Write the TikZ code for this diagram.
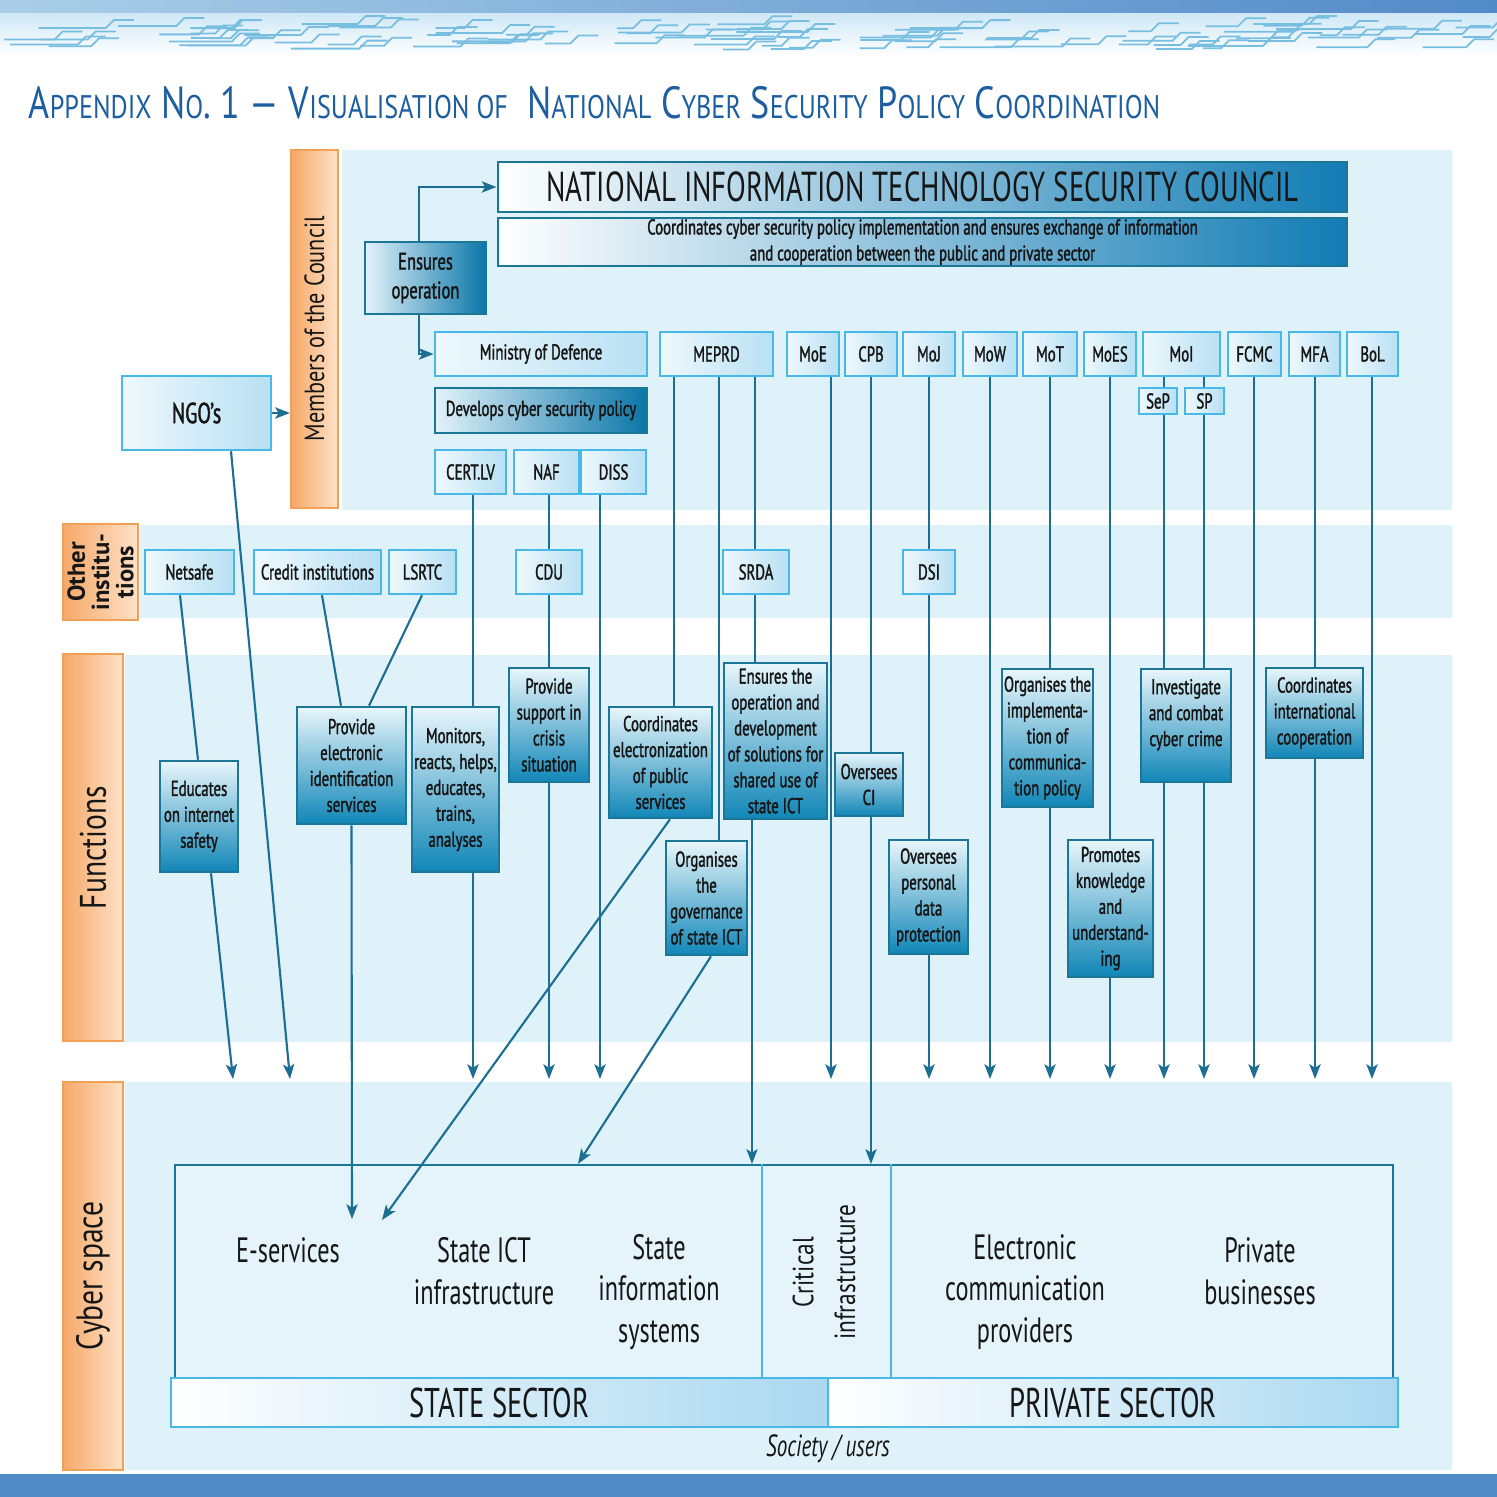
\documentclass[tikz,border=0pt]{standalone}
\usepackage{fontspec}
\setmainfont{PT Sans}[FakeStretch=0.69]
\newfontfamily\boxfamily{PT Sans}[FakeStretch=0.69, FakeBold=1.5]
\newfontfamily\bandfamily{PT Sans}[FakeStretch=0.8]
\newfontfamily\widefamily{PT Sans}
\usetikzlibrary{arrows.meta}

\definecolor{panelblue}{RGB}{223,241,249}
\definecolor{cyberfill}{RGB}{229,244,250}
\definecolor{linkblue}{RGB}{28,110,146}
\definecolor{cyanedge}{RGB}{72,184,230}
\definecolor{darkedge}{RGB}{28,118,152}
\definecolor{memberleft}{RGB}{238,248,252}
\definecolor{lightfill}{RGB}{184,224,243}
\definecolor{funtop}{RGB}{232,246,251}
\definecolor{funbottom}{RGB}{16,134,183}
\definecolor{deepleft}{RGB}{226,242,250}
\definecolor{deepright}{RGB}{10,118,168}
\definecolor{councilright}{RGB}{18,124,180}
\definecolor{bandleft}{RGB}{246,168,104}
\definecolor{bandright}{RGB}{253,226,200}
\definecolor{bandedge}{RGB}{242,160,88}
\definecolor{titleblue}{RGB}{28,94,160}
\definecolor{bannerblue}{RGB}{82,138,200}
\definecolor{bannerlight}{RGB}{170,206,232}
\definecolor{bannerpale}{RGB}{208,232,246}
\definecolor{circuitblue}{RGB}{120,190,225}
\definecolor{sectorfill}{RGB}{170,216,240}
\definecolor{inkblack}{RGB}{22,22,22}

% small capitals of the title
\newcommand\smc[1]{{\fontsize{9.3}{11}\selectfont #1}}

\tikzset{
  band/.style={draw=bandedge, line width=0.6pt, left color=bandleft, right color=bandright, inner sep=0pt},
  bandtext/.style={font=\bandfamily\fontsize{10.5}{12}\selectfont},
  member/.style={draw=cyanedge, line width=0.7pt, left color=memberleft, right color=lightfill,
    inner sep=0pt, minimum height=0.44cm, font=\boxfamily\fontsize{6.1}{7.4}\selectfont},
  funbox/.style={draw=darkedge, line width=0.7pt, top color=funtop, bottom color=funbottom,
    inner sep=0pt, align=center, font=\boxfamily\fontsize{6.1}{7.37}\selectfont},
  deepbox/.style={draw=darkedge, line width=0.7pt, left color=deepleft, right color=deepright,
    inner sep=0pt, align=center},
  councilbox/.style={draw=darkedge, line width=0.7pt, left color=white, right color=councilright,
    inner sep=0pt, minimum width=8.49cm, align=center},
  sector/.style={draw=cyanedge, line width=0.7pt, left color=white, right color=sectorfill,
    inner sep=0pt, minimum height=0.49cm, font=\fontsize{11.8}{13}\selectfont},
  spacetext/.style={align=center, font=\fontsize{10}{11.9}\selectfont},
  circuit/.style={draw=circuitblue, line width=0.5pt},
  link/.style={draw=linkblue, line width=0.6pt},
  arr/.style={link, -{Stealth[length=4.2pt, width=3.2pt, inset=1pt]}},
}

\begin{document}
\begin{tikzpicture}[x=0.01cm, y=-0.01cm, every node/.append style={text=inkblack}]
  \useasboundingbox (0,0) rectangle (1497,1497);
  \fill[white] (0,0) rectangle (1497,1497);

  % banner top and bottom
  \fill[left color=bannerlight, right color=bannerblue] (0,0) rectangle (1497,14);
  \fill[top color=bannerpale, bottom color=white] (0,14) rectangle (1497,56);
  \pgfmathsetseed{4}
  \foreach \i in {1,...,90}{
    \pgfmathsetmacro\xa{rnd*1470}
    \pgfmathsetmacro\ya{24+rnd*26}
    \pgfmathsetmacro\la{15+rnd*60}
    \draw[circuit] (\xa,\ya) -- ++(\la,0) -- ++(8,-8) -- ++(20,0);
  }
  \fill[bannerblue] (0,1474) rectangle (1497,1497);

  \node[anchor=base west, text=titleblue, inner sep=0pt, font=\bandfamily\fontsize{12.8}{15}\selectfont] (title) at (28,119)
    {A\smc{PPENDIX} N\smc{O}. 1 — V\smc{ISUALISATION OF}\ \ N\smc{ATIONAL} C\smc{YBER} S\smc{ECURITY} P\smc{OLICY} C\smc{OORDINATION}};

  % light panels of the rows
  \fill[panelblue] (342,150) rectangle (1452,510);
  \fill[panelblue] (140,525) rectangle (1452,618);
  \fill[panelblue] (125,655) rectangle (1452,1042);
  \fill[panelblue] (125,1082) rectangle (1452,1470);

  % row labels
  \node[band, minimum width=0.47cm, minimum height=3.58cm] (members) at (314.5,329) {};
  \node[rotate=90, font=\bandfamily\fontsize{7.9}{9}\selectfont] (memberslabel) at (members) {Members of the Council};
  \node[band, minimum width=0.75cm, minimum height=0.96cm] (other) at (100.5,572) {};
  \node[rotate=90, align=center, font=\widefamily\bfseries\fontsize{7}{6.9}\selectfont] (otherlabel) at (other) {Other\\institu-\\tions};
  \node[band, minimum width=0.60cm, minimum height=3.87cm] (functions) at (93,847.5) {};
  \node[bandtext, rotate=90] (functionslabel) at (functions) {Functions};
  \node[band, minimum width=0.60cm, minimum height=3.88cm] (cyberband) at (93,1276) {};
  \node[bandtext, rotate=90] (cyberlabel) at (cyberband) {Cyber space};

  % council
  \node[councilbox, minimum height=0.50cm, font=\fontsize{11.9}{13}\selectfont] (council) at (922.5,187)
    {NATIONAL INFORMATION TECHNOLOGY SECURITY COUNCIL};
  \node[councilbox, minimum height=0.48cm, font=\boxfamily\fontsize{6.1}{7.4}\selectfont] (councilsub) at (922.5,242)
    {Coordinates cyber security policy implementation and ensures exchange of information\\
     and cooperation between the public and private sector};
  \node[deepbox, minimum width=1.21cm, minimum height=0.72cm, font=\boxfamily\fontsize{6.8}{8.2}\selectfont] (ensop) at (425.5,278)
    {Ensures\\operation};

  % members
  \node[member, minimum width=2.12cm] (mod) at (541,354) {Ministry of Defence};
  \node[deepbox, minimum width=2.12cm, minimum height=0.45cm, font=\boxfamily\fontsize{6.1}{7.4}\selectfont] (dev) at (541,410.5)
    {Develops cyber security policy};
  \node[member, minimum width=0.71cm] (cert) at (470.5,472) {CERT.LV};
  \node[member, minimum width=0.65cm] (naf) at (546.5,472) {NAF};
  \node[member, minimum width=0.65cm] (diss) at (613.5,472) {DISS};
  \foreach \n/\cx/\w/\t in {meprd/716.5/1.13/MEPRD, moe/813/0.52/MoE, cpb/871/0.52/CPB,
      moj/929/0.52/MoJ, mow/990/0.54/MoW, mot/1050/0.54/MoT, moes/1110/0.52/MoES,
      moi/1181.5/0.77/MoI, fcmc/1254.5/0.53/FCMC, mfa/1314.5/0.51/MFA, bol/1372.5/0.51/BoL}
    \node[member, minimum width=\w cm] (\n) at (\cx,354) {\t};
  \node[member, minimum width=0.38cm, minimum height=0.26cm] (sep) at (1158,401) {SeP};
  \node[member, minimum width=0.39cm, minimum height=0.26cm] (sp) at (1204.5,401) {SP};
  \node[member, minimum width=1.49cm, minimum height=0.74cm, font=\boxfamily\fontsize{8.2}{10}\selectfont] (ngo) at (196.5,413) {NGO’s};

  % other institutions
  \foreach \n/\cx/\w/\t in {netsafe/189.5/0.89/Netsafe, credit/317.5/1.27/Credit institutions,
      lsrtc/422.5/0.67/LSRTC, cdu/549/0.66/CDU, srda/756/0.66/SRDA, dsi/929/0.52/DSI}
    \node[member, minimum width=\w cm] (\n) at (\cx,572) {\t};

  % functions
  \node[funbox, minimum width=0.78cm, minimum height=1.11cm] (fedu) at (199,816.5) {Educates\\on internet\\safety};
  \node[funbox, minimum width=1.09cm, minimum height=1.17cm] (feid) at (351.5,765.5) {Provide\\electronic\\identification\\services};
  \node[funbox, minimum width=0.87cm, minimum height=1.65cm] (fmon) at (455.5,789.5) {Monitors,\\reacts, helps,\\educates,\\trains,\\analyses};
  \node[funbox, minimum width=0.80cm, minimum height=1.14cm] (fcrisis) at (549,725) {Provide\\support in\\crisis\\situation};
  \node[funbox, minimum width=1.03cm, minimum height=1.11cm] (felec) at (660.5,762.5) {Coordinates\\electronization\\of public\\services};
  \node[funbox, minimum width=1.03cm, minimum height=1.56cm] (fshared) at (775.5,741) {Ensures the\\operation and\\development\\of solutions for\\shared use of\\state ICT};
  \node[funbox, minimum width=0.81cm, minimum height=1.14cm] (fgov) at (706.5,898) {Organises\\the\\governance\\of state ICT};
  \node[funbox, minimum width=0.68cm, minimum height=0.63cm] (fci) at (869,784.5) {Oversees\\CI};
  \node[funbox, minimum width=0.79cm, minimum height=1.14cm] (fdata) at (928.5,897) {Oversees\\personal\\data\\protection};
  \node[funbox, minimum width=0.91cm, minimum height=1.38cm] (fcomm) at (1047.5,738) {Organises the\\implementa-\\tion of\\communica-\\tion policy};
  \node[funbox, minimum width=0.85cm, minimum height=1.37cm] (fknow) at (1110.5,908.5) {Promotes\\knowledge\\and\\understand-\\ing};
  \node[funbox, minimum width=0.90cm, minimum height=1.13cm] (fcrime) at (1186,725.5) {Investigate\\and combat\\cyber crime\\~};
  \node[funbox, minimum width=0.97cm, minimum height=0.90cm] (fintl) at (1314.5,713) {Coordinates\\international\\cooperation};

  % cyber space
  \node[draw=darkedge, line width=0.6pt, fill=cyberfill, inner sep=0pt, minimum width=12.18cm, minimum height=2.13cm] (cyber) at (784,1271.5) {};
  \draw[cyanedge, line width=0.6pt] (762,0 |- cyber.north) -- (762,0 |- cyber.south);
  \draw[cyanedge, line width=0.6pt] (891,0 |- cyber.north) -- (891,0 |- cyber.south);
  \node[spacetext] (eserv) at (288,1250) {E-services};
  \node[spacetext] (stateict) at (484,1271) {State ICT\\infrastructure};
  \node[spacetext] (stateis) at (659,1292) {State\\information\\systems};
  \node[rotate=90, align=center, font=\bandfamily\fontsize{8.3}{11.9}\selectfont] (critical) at (824,1272) {Critical\\infrastructure};
  \node[spacetext] (ecomm) at (1025,1292) {Electronic\\communication\\providers};
  \node[spacetext] (business) at (1260,1271) {Private\\businesses};
  \node[sector, minimum width=6.57cm] (state) at (499.5,1402.5) {STATE SECTOR};
  \node[sector, minimum width=5.70cm] (private) at (1113,1402.5) {PRIVATE SECTOR};
  \node[font=\itshape\fontsize{8.7}{10}\selectfont] (society) at (828,1449) {Society / users};

  % connectors
  \coordinate (endrow) at (0,1079);
  \coordinate (eservtip) at (352,1219);
  \coordinate (eservdiag) at (382,1220);
  \draw[arr] (ngo.east) -- (members.west |- ngo.east);
  \draw[arr] (419,0 |- ensop.north) |- (council.west);
  \draw[arr] (419,0 |- ensop.south) |- (mod.west);

  \draw[link] (180,0 |- netsafe.south) -- (198,0 |- fedu.north);
  \draw[arr] (211,0 |- fedu.south) -- (233,0 |- endrow);
  \draw[arr] (231,0 |- ngo.south) -- (290,0 |- endrow);
  \draw[link] (322,0 |- credit.south) -- (341,0 |- feid.north);
  \draw[link] (422,0 |- lsrtc.south) -- (369,0 |- feid.north);
  \draw[arr] (feid.south) -- (eservtip);

  \draw[link] (473,0 |- cert.south) -- (473,0 |- fmon.north);
  \draw[arr] (473,0 |- fmon.south) -- (473,0 |- endrow);
  \draw[link] (549,0 |- naf.south) -- (549,0 |- cdu.north) (549,0 |- cdu.south) -- (549,0 |- fcrisis.north);
  \draw[arr] (549,0 |- fcrisis.south) -- (549,0 |- endrow);

  \draw[link] (674,0 |- meprd.south) -- (674,0 |- felec.north);
  \draw[arr] (670,0 |- felec.south) -- (eservdiag);
  \draw[link] (719,0 |- meprd.south) -- (719,0 |- fgov.north);
  \draw[arr] (711,0 |- fgov.south) -- (578,0 |- cyber.north);
  \draw[link] (755,0 |- meprd.south) -- (755,0 |- srda.north) (755,0 |- srda.south) -- (755,0 |- fshared.north);
  \draw[arr] (752,0 |- fshared.south) -- (752,0 |- cyber.north);

  \draw[link] (871,0 |- cpb.south) -- (871,0 |- fci.north);
  \draw[arr] (871,0 |- fci.south) -- (871,0 |- cyber.north);
  \draw[link] (929,0 |- moj.south) -- (929,0 |- dsi.north) (929,0 |- dsi.south) -- (929,0 |- fdata.north);
  \draw[arr] (929,0 |- fdata.south) -- (929,0 |- endrow);
  \draw[link] (1050,0 |- mot.south) -- (1050,0 |- fcomm.north);
  \draw[arr] (1050,0 |- fcomm.south) -- (1050,0 |- endrow);
  \draw[link] (1110,0 |- moes.south) -- (1110,0 |- fknow.north);
  \draw[arr] (1110,0 |- fknow.south) -- (1110,0 |- endrow);
  \draw[link] (1164,0 |- moi.south) -- (1164,0 |- sep.north) (1164,0 |- sep.south) -- (1164,0 |- fcrime.north);
  \draw[link] (1204,0 |- moi.south) -- (1204,0 |- sp.north) (1204,0 |- sp.south) -- (1204,0 |- fcrime.north);
  \draw[arr] (1164,0 |- fcrime.south) -- (1164,0 |- endrow);
  \draw[arr] (1204,0 |- fcrime.south) -- (1204,0 |- endrow);
  \draw[link] (1315,0 |- mfa.south) -- (1315,0 |- fintl.north);
  \draw[arr] (1315,0 |- fintl.south) -- (1315,0 |- endrow);
  \foreach \m/\x in {diss/600, moe/831, mow/990, fcmc/1254, bol/1372}
    \draw[arr] (\x,0 |- \m.south) -- (\x,0 |- endrow);
\end{tikzpicture}
\end{document}
